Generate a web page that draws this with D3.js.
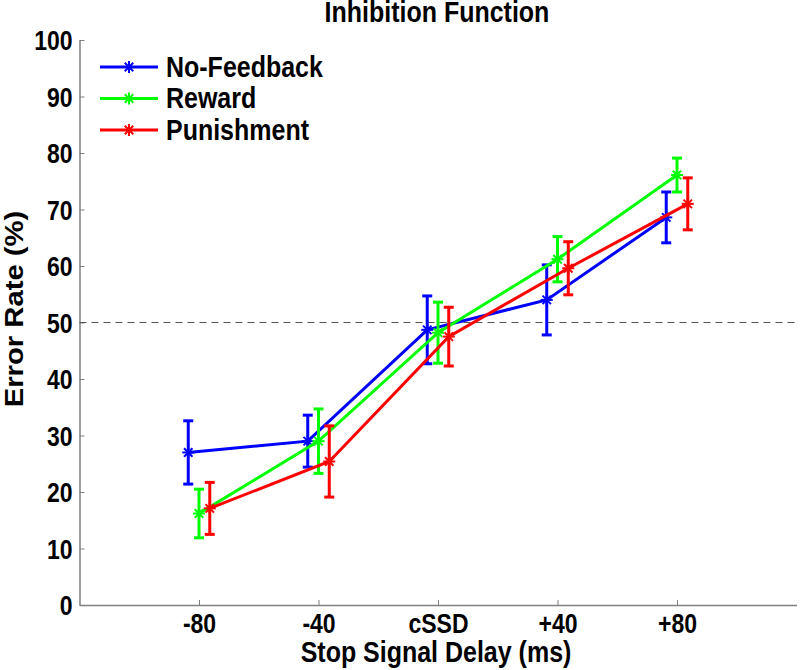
<!DOCTYPE html>
<html>
<head>
<meta charset="utf-8">
<script src="https://d3js.org/d3.v7.min.js"></script>
<style>
  body { margin: 0; background: #fff; }
  text { font-family: Arial, "Liberation Sans", sans-serif; font-weight: bold; }
</style>
</head>
<body>
<svg id="chart"></svg>
<script>
// chart data

var categories = ["-80", "-40", "cSSD", "+40", "+80"];
var seriesNames = ["No-Feedback", "Reward", "Punishment"];
var colors = ["#0000ff", "#00ff00", "#ff0000"];
var offsets = [-0.09, 0, 0.09];

var noFeedback = [27.0, 29.0, 48.7, 54.0, 68.6];
var noFeedbackErr = [5.6, 4.6, 6.0, 6.2, 4.5];
var reward = [16.2, 29.0, 48.2, 61.2, 76.1];
var rewardErr = [4.3, 5.7, 5.4, 4.0, 3.0];
var punishment = [17.1, 25.4, 47.5, 59.6, 71.0];
var punishmentErr = [4.6, 6.3, 5.2, 4.7, 4.6];

var yTicks = [0, 10, 20, 30, 40, 50, 60, 70, 80, 90, 100];
var refLevel = 50;

var values = [noFeedback, reward, punishment];
var errors = [noFeedbackErr, rewardErr, punishmentErr];

// svg params

var svgWidth = 800, svgHeight = 670;
var stretch = 1.17; // the figure text is a bit taller than wide

var xScale = d3.scaleLinear()
  .domain([-1, categories.length])
  .range([79.5, 796.5]);

var yScale = d3.scaleLinear()
  .domain([0, 100])
  .range([605, 40]);

var svg = d3.select("#chart")
  .attr("width", svgWidth)
  .attr("height", svgHeight);

// axes

var axisColor = "#808080";

var xAxis = svg.append("g")
  .attr("transform", "translate(0," + yScale(0) + ")")
  .call(d3.axisBottom(xScale)
    .tickValues(d3.range(categories.length))
    .tickFormat(function (d) { return categories[d]; })
    .tickSizeInner(-5).tickSizeOuter(0).tickPadding(7.5));

var yAxis = svg.append("g")
  .attr("transform", "translate(" + xScale(-1) + ",0)")
  .call(d3.axisLeft(yScale)
    .tickValues(yTicks)
    .tickSizeInner(-5).tickSizeOuter(0).tickPadding(7));

[xAxis, yAxis].forEach(function (ax) {
  ax.select(".domain").attr("stroke", axisColor).attr("stroke-width", 1.5);
  ax.selectAll(".tick line").attr("stroke", axisColor).attr("stroke-width", 1);
  ax.selectAll(".tick text")
    .attr("fill", "#000")
    .attr("transform", "scale(1," + stretch + ")")
    .style("font-size", "23px")
    .style("font-family", "Arial, 'Liberation Sans', sans-serif")
    .style("font-weight", "bold");
});
yAxis.selectAll(".tick text").attr("dy", "0.36em");
xAxis.selectAll(".tick text").attr("dy", "0.71em");

// reference line at 50%

svg.append("line")
  .attr("x1", xScale(-1))
  .attr("x2", xScale(categories.length))
  .attr("y1", yScale(refLevel))
  .attr("y2", yScale(refLevel))
  .attr("stroke", "#555")
  .attr("stroke-width", 1)
  .attr("stroke-dasharray", "7,5");

// asterisk marker

function star(g, x, y, color, r) {
  var angles = [0, 45, 90, 135];
  angles.forEach(function (a) {
    var rad = a * Math.PI / 180;
    g.append("line")
      .attr("x1", x - r * Math.cos(rad)).attr("y1", y - r * Math.sin(rad))
      .attr("x2", x + r * Math.cos(rad)).attr("y2", y + r * Math.sin(rad))
      .attr("stroke", color).attr("stroke-width", 2);
  });
}

// series

var line = d3.line()
  .x(function (d) { return xScale(d.i + d.off); })
  .y(function (d) { return yScale(d.v); });

values.forEach(function (vals, s) {
  var g = svg.append("g");
  var pts = vals.map(function (v, i) {
    return { i: i, off: offsets[s], v: v, e: errors[s][i] };
  });

  g.append("path")
    .datum(pts)
    .attr("d", line)
    .attr("fill", "none")
    .attr("stroke", colors[s])
    .attr("stroke-width", 3);

  pts.forEach(function (p) {
    var x = xScale(p.i + p.off);
    g.append("line")
      .attr("x1", x).attr("x2", x)
      .attr("y1", yScale(p.v - p.e)).attr("y2", yScale(p.v + p.e))
      .attr("stroke", colors[s]).attr("stroke-width", 3);
    [p.v - p.e, p.v + p.e].forEach(function (c) {
      g.append("line")
        .attr("x1", x - 5).attr("x2", x + 5)
        .attr("y1", yScale(c)).attr("y2", yScale(c))
        .attr("stroke", colors[s]).attr("stroke-width", 3);
    });
    star(g, x, yScale(p.v), colors[s], 6);
  });
});

// text helper, stretched vertically like the reference

function label(x, y, str, size, anchor, rotate) {
  return svg.append("text")
    .attr("transform", "translate(" + x + "," + y + ") scale(1," + stretch + ")" +
      (rotate ? " rotate(" + rotate + ")" : ""))
    .attr("text-anchor", anchor)
    .style("font-size", size + "px")
    .text(str);
}

// legend

var legend = svg.append("g");
seriesNames.forEach(function (name, s) {
  var y = 67 + s * 31.5;
  legend.append("line")
    .attr("x1", 100).attr("x2", 158)
    .attr("y1", y).attr("y2", y)
    .attr("stroke", colors[s]).attr("stroke-width", 3);
  star(legend, 129, y, colors[s], 6);
  label(166, y + 9.8, name, 25, "start");
});

// title and labels

label(437, 21.5, "Inhibition Function", 25, "middle");
label(436, 662, "Stop Signal Delay (ms)", 25, "middle");
label(23, 309, "Error Rate (%)", 25, "middle", -90);
</script>
</body>
</html>
